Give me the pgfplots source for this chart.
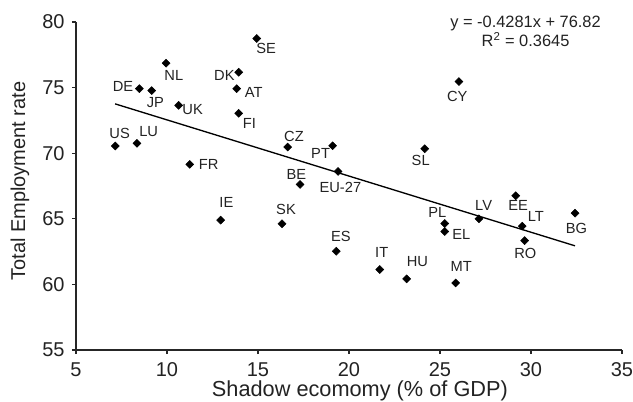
\documentclass[border=0pt]{standalone}
\usepackage{pgfplots}
\usepackage{pgfplotstable}
\pgfplotsset{compat=1.18}
\usepackage{fontspec}
\setmainfont{Liberation Sans}
\definecolor{txt}{HTML}{222222}
\pgfplotstableread{
x y label dx dy
14.93 78.74 SE 7 -7.3
9.95 76.86 NL 5.8 -9
13.94 76.17 DK -10.75 -2.25
8.48 74.92 DE -12.25 1.5
9.16 74.77 JP 2.75 -8.75
13.83 74.92 AT 12.75 -3
10.64 73.65 UK 10.5 -3.5
13.94 73.04 FI 8 -7.75
7.16 70.55 US 3.25 9.75
8.35 70.75 LU 8.75 8.75
11.25 69.15 FR 14.25 0
26.04 75.46 CY -1.25 -11
16.63 70.47 CZ 4.75 8.25
19.10 70.57 PT -9 -5.5
24.16 70.34 SL -3 -9
19.40 68.61 EU-27 1.75 -12
17.31 67.62 BE -2.75 7.5
16.32 64.62 SK 3 10.5
19.30 62.53 ES 3.5 10.75
21.69 61.13 IT 1.5 12.75
23.17 60.42 HU 8 12.75
25.86 60.11 MT 4.25 12.75
25.26 64.64 PL -5.5 8.25
25.26 64.03 EL 12.5 -2.5
12.95 64.90 IE 4.25 13
27.14 65.00 LV 3.5 10
29.16 66.76 EE 1.75 -7.25
29.52 64.44 LT 10.25 7
29.65 63.34 RO 0.5 -9.75
32.42 65.43 BG 1 -11.25
}\countries
\begin{document}
\begin{tikzpicture}
\useasboundingbox (-57pt,-38.25pt) rectangle (417.75pt,262.5pt);
\begin{axis}[
  scale only axis, width=409.5pt, height=246pt,
  xmin=5, xmax=35, ymin=55, ymax=80,
  xtick={5,10,...,35}, ytick={55,60,...,80},
  axis x line*=bottom, axis y line*=left,
  tick align=outside, major tick length=3pt,
  axis line style={black!85, line width=0.8pt},
  tick style={black!85, line width=0.8pt},
  ticklabel style={font=\fontsize{15}{17}\selectfont, text=txt},
  xticklabel style={yshift=-3pt},
  yticklabel style={xshift=-2pt},
  /pgf/number format/assume math mode=true,
  xlabel={Shadow ecomomy (\% of GDP)},
  ylabel={Total Employment rate},
  xlabel style={font=\fontsize{16.3}{19}\selectfont, text=txt, at={(axis description cs:0.52,0)}, anchor=center, yshift=-31pt},
  ylabel style={font=\fontsize{15}{18}\selectfont, text=txt, at={(axis description cs:-0.1026,0.515)}, anchor=center},
  clip=false,
]
\addplot[black, line width=1pt] coordinates {(7.15,73.76) (32.42,62.94)};
\addplot[only marks, mark=square*, mark size=2.1pt, mark options={rotate=45, fill=black, draw=black},
  point meta=explicit symbolic,
  visualization depends on={\thisrow{dx} \as \mydx},
  visualization depends on={\thisrow{dy} \as \mydy},
  nodes near coords,
  nodes near coords style={anchor=center, inner sep=0pt, xshift=\mydx*1pt, yshift=\mydy*1pt, font=\fontsize{11}{13}\selectfont, text=txt},
] table[x=x, y=y, meta=label] {\countries};
\node[align=center, inner sep=0pt, font=\fontsize{12.3}{14.25}\selectfont, text=txt] at (axis cs:29.7,79.3) {y = -0.4281x + 76.82\\R\textsuperscript{2} = 0.3645};
\end{axis}
\end{tikzpicture}
\end{document}
